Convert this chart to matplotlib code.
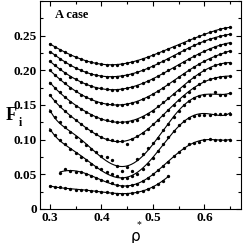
import numpy as np
import matplotlib
matplotlib.use("Agg")
import matplotlib.pyplot as plt
from matplotlib.ticker import MultipleLocator, FormatStrFormatter

rho = [round(0.30 + 0.01 * i, 2) for i in range(36)]

curve1 = [0.238, 0.234, 0.230, 0.226, 0.222, 0.219, 0.216, 0.214, 0.212, 0.210, 0.209, 0.208,
          0.208, 0.208, 0.209, 0.211, 0.212, 0.214, 0.216, 0.219, 0.222, 0.225, 0.228, 0.231,
          0.234, 0.237, 0.240, 0.243, 0.246, 0.249, 0.252, 0.255, 0.257, 0.259, 0.261, 0.262]
curve2 = [0.227, 0.222, 0.217, 0.212, 0.207, 0.203, 0.200, 0.197, 0.195, 0.193, 0.192, 0.191,
          0.191, 0.191, 0.192, 0.193, 0.195, 0.197, 0.200, 0.203, 0.206, 0.210, 0.213, 0.217,
          0.221, 0.225, 0.229, 0.232, 0.236, 0.239, 0.242, 0.245, 0.247, 0.249, 0.251, 0.252]
curve3 = [0.213, 0.207, 0.202, 0.196, 0.191, 0.187, 0.183, 0.180, 0.177, 0.175, 0.174, 0.173,
          0.172, 0.172, 0.173, 0.174, 0.176, 0.178, 0.181, 0.184, 0.188, 0.192, 0.196, 0.200,
          0.204, 0.208, 0.212, 0.216, 0.220, 0.224, 0.228, 0.231, 0.234, 0.236, 0.238, 0.240]
curve4 = [0.200, 0.193, 0.187, 0.181, 0.175, 0.170, 0.165, 0.161, 0.158, 0.155, 0.153, 0.152,
          0.151, 0.150, 0.150, 0.151, 0.153, 0.155, 0.158, 0.162, 0.166, 0.170, 0.175, 0.180,
          0.185, 0.190, 0.195, 0.200, 0.205, 0.209, 0.213, 0.217, 0.220, 0.223, 0.226, 0.228]
curve5 = [0.182, 0.175, 0.168, 0.161, 0.155, 0.149, 0.144, 0.140, 0.136, 0.133, 0.130, 0.128,
          0.127, 0.126, 0.125, 0.125, 0.127, 0.129, 0.133, 0.137, 0.142, 0.148, 0.154, 0.160,
          0.166, 0.172, 0.178, 0.184, 0.190, 0.195, 0.200, 0.204, 0.207, 0.209, 0.211, 0.211]
curve6 = [0.164, 0.156, 0.148, 0.141, 0.134, 0.128, 0.122, 0.117, 0.112, 0.108, 0.104, 0.101,
          0.099, 0.098, 0.098, 0.094, 0.101, 0.105, 0.110, 0.116, 0.122, 0.129, 0.136, 0.143,
          0.150, 0.157, 0.163, 0.169, 0.175, 0.180, 0.184, 0.187, 0.189, 0.190, 0.191, 0.192]
curve7 = [0.141, 0.133, 0.125, 0.118, 0.111, 0.104, 0.098, 0.092, 0.087, 0.082, 0.077, 0.075,
          0.070, 0.062, 0.055, 0.060, 0.055, 0.072, 0.080, 0.088, 0.095, 0.103, 0.114, 0.122,
          0.133, 0.142, 0.150, 0.156, 0.160, 0.163, 0.164, 0.165, 0.168, 0.165, 0.165, 0.167]
curve8 = [0.114, 0.107, 0.100, 0.093, 0.087, 0.081, 0.075, 0.070, 0.065, 0.061, 0.057, 0.053,
          0.050, 0.047, 0.045, 0.045, 0.047, 0.051, 0.057, 0.065, 0.074, 0.084, 0.094, 0.104,
          0.113, 0.121, 0.127, 0.131, 0.134, 0.135, 0.136, 0.136, 0.137, 0.137, 0.137, 0.137]
rho9 = rho[2:]
curve9 = [0.052, 0.058, 0.055, 0.054, 0.053, 0.051, 0.047, 0.045, 0.042, 0.040, 0.037, 0.034,
          0.033, 0.033, 0.034, 0.036, 0.040, 0.045, 0.050, 0.056, 0.062, 0.068, 0.076, 0.082,
          0.088, 0.093, 0.095, 0.097, 0.099, 0.101, 0.100, 0.099, 0.100, 0.100]
rho10 = rho[:24]
curve10 = [0.033, 0.032, 0.031, 0.030, 0.029, 0.028, 0.028, 0.027, 0.026, 0.026, 0.025, 0.024,
           0.023, 0.022, 0.022, 0.022, 0.023, 0.024, 0.026, 0.029, 0.032, 0.036, 0.041, 0.047]

series = [(rho, curve1), (rho, curve2), (rho, curve3), (rho, curve4), (rho, curve5),
          (rho, curve6), (rho, curve7), (rho, curve8), (rho9, curve9), (rho10, curve10)]

plt.rcParams['font.family'] = ['Liberation Serif', 'DejaVu Serif']
fig = plt.figure(figsize=(2.47, 2.43), dpi=100)
ax = fig.add_axes([0.160, 0.140, 0.814, 0.856])

for xs, ys in series:
    xs = np.asarray(xs)
    ys = np.asarray(ys)
    c = xs.mean()
    coef = np.polyfit(xs - c, ys, 7 if len(xs) > 30 else 5)
    xf = np.linspace(xs.min(), xs.max(), 200)
    ax.plot(xf, np.polyval(coef, xf - c), color='black', lw=0.8)
    ax.plot(xs, ys, 'o', color='black', ms=2.4, mew=0)

ax.set_xlim(0.28, 0.67)
ax.set_ylim(0, 0.30)
ax.xaxis.set_major_locator(MultipleLocator(0.1))
ax.xaxis.set_minor_locator(MultipleLocator(0.05))
ax.yaxis.set_major_locator(MultipleLocator(0.05))
ax.yaxis.set_minor_locator(MultipleLocator(0.025))
ax.xaxis.set_major_formatter(FormatStrFormatter('%.1f'))
ax.set_xticks([0.3, 0.4, 0.5, 0.6])
ax.set_yticks([0, 0.05, 0.10, 0.15, 0.20, 0.25])
ax.set_yticklabels(['0', '0.05', '0.10', '0.15', '0.20', '0.25'])
ax.tick_params(which='both', direction='in', top=True, right=True, labelsize=9.5, pad=2)
ax.tick_params(which='major', length=3.5, width=0.8)
ax.tick_params(which='minor', length=2, width=0.8)
for lab in ax.get_xticklabels() + ax.get_yticklabels():
    lab.set_fontweight('bold')
for s in ax.spines.values():
    s.set_linewidth(0.8)

ax.text(0.31, 0.280, 'A case', fontsize=9, fontweight='bold', va='center', ha='left')
fig.text(0.022, 0.525, 'F', fontsize=13, fontweight='bold', va='center', ha='left')
fig.text(0.078, 0.495, 'i', fontsize=8.5, fontweight='bold', va='center', ha='left')
fig.text(0.548, 0.025, 'ρ', fontsize=11, family='DejaVu Sans', va='center', ha='center')
fig.text(0.563, 0.075, '*', fontsize=7, va='center', ha='center')

fig.savefig('out.png', dpi=100)
